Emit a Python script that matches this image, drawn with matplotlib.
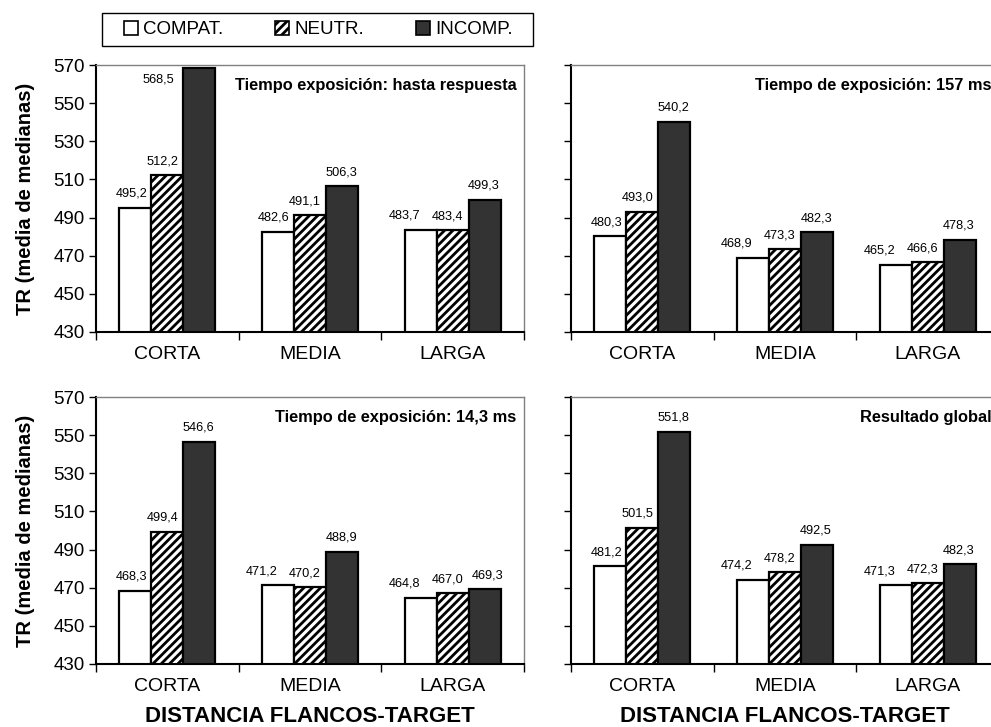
import matplotlib
matplotlib.use("Agg")
import matplotlib.pyplot as plt
from matplotlib.patches import Patch, Rectangle
import numpy as np

plt.rcParams['font.family'] = ['Liberation Sans', 'DejaVu Sans']
plt.rcParams['hatch.linewidth'] = 2.0

categories = ["CORTA", "MEDIA", "LARGA"]
series = ["COMPAT.", "NEUTR.", "INCOMP."]
titles = ["Tiempo exposición: hasta respuesta", "Tiempo de exposición: 157 ms",
          "Tiempo de exposición: 14,3 ms", "Resultado global"]

hasta_respuesta = [[495.2, 482.6, 483.7], [512.2, 491.1, 483.4], [568.5, 506.3, 499.3]]
exp_157 = [[480.3, 468.9, 465.2], [493.0, 473.3, 466.6], [540.2, 482.3, 478.3]]
exp_14_3 = [[468.3, 471.2, 464.8], [499.4, 470.2, 467.0], [546.6, 488.9, 469.3]]
global_res = [[481.2, 474.2, 471.3], [501.5, 478.2, 472.3], [551.8, 492.5, 482.3]]
panels = [hasta_respuesta, exp_157, exp_14_3, global_res]

yticks = [430, 450, 470, 490, 510, 530, 550, 570]

W, H = 991, 727
fig = plt.figure(figsize=(W / 100, H / 100), dpi=100)
PT = 0.72  # points per pixel

boxes = [(96, 65), (571, 65), (96, 397), (571, 397)]
aw, ah = 428, 267

facecolors = ["white", "white", "#333333"]
hatches = [None, "////", None]
bw = 0.225


def label_dx(vals, s, c):
    """Horizontal nudge (px) that mimics the spreadsheet's label placement."""
    if s == 0:
        return -16 if abs(vals[0][c] - vals[1][c]) < 6 else -4
    if s == 1:
        return -5
    return 3 if abs(vals[2][c] - vals[1][c]) < 6 else -1


for i, (vals, title, (x0, y0)) in enumerate(zip(panels, titles, boxes)):
    ax = fig.add_axes([x0 / W, 1 - (y0 + ah) / H, aw / W, ah / H])
    x = np.arange(len(categories))
    for s in range(3):
        xs = x + (s - 1) * bw
        ax.bar(xs, vals[s], width=bw, bottom=0, color=facecolors[s], hatch=hatches[s],
               edgecolor="black", linewidth=1.6, zorder=2)
        for c, (xi, v) in enumerate(zip(xs, vals[s])):
            txt = f"{v:.1f}".replace(".", ",")
            if v > 562:
                ax.annotate(txt, (xi, 570), xytext=(-41 * PT, -15 * PT),
                            textcoords="offset points", ha="center", va="center",
                            fontsize=9.2)
            else:
                ax.annotate(txt, (xi, v), xytext=(label_dx(vals, s, c) * PT, 14 * PT),
                            textcoords="offset points", ha="center", va="center",
                            fontsize=9.2)
    ax.set_ylim(430, 570)
    ax.set_xlim(-0.5, 2.5)
    ax.set_yticks(yticks)
    if i % 2 == 0:
        ax.set_yticklabels([str(t) for t in yticks], fontsize=13.5)
        ax.set_ylabel("TR (media de medianas)", fontsize=14.5, fontweight="bold",
                      labelpad=13)
    else:
        ax.set_yticklabels([])
    ax.set_xticks([-0.5, 0.5, 1.5, 2.5])
    ax.set_xticklabels([])
    ax.set_xticks(x, minor=True)
    ax.set_xticklabels(categories, minor=True, fontsize=14)
    ax.tick_params(axis="x", which="minor", length=0, pad=10)
    ax.tick_params(axis="x", which="major", length=6, width=1, direction="out")
    ax.tick_params(axis="y", length=5, width=1, direction="out", pad=3)
    for sp in ["left", "bottom"]:
        ax.spines[sp].set_linewidth(1.5)
        ax.spines[sp].set_color("black")
    for sp in ["top", "right"]:
        ax.spines[sp].set_linewidth(1.0)
        ax.spines[sp].set_color("#808080")
    ax.text(0.982, 0.925, title, transform=ax.transAxes, ha="right", va="center",
            fontsize=11.8, fontweight="bold")
    if i >= 2:
        ax.set_xlabel("DISTANCIA FLANCOS-TARGET", fontsize=16, fontweight="bold",
                      labelpad=8)

# legend frame drawn separately so its padding can match the reference
fig.patches.append(Rectangle((102 / W, 1 - 46 / H), 431 / W, 33 / H,
                             transform=fig.transFigure, fill=False,
                             edgecolor="black", linewidth=1.0))
handles = [Patch(facecolor=facecolors[s], edgecolor="black", hatch=hatches[s], linewidth=1.2)
           for s in range(3)]
leg = fig.legend(handles, series, loc="center",
                 bbox_to_anchor=(318 / W, 1 - 29.5 / H),
                 ncol=3, fontsize=13.5, frameon=False,
                 handlelength=0.75, handleheight=0.75, handletextpad=0.27,
                 columnspacing=2.77, borderpad=0, borderaxespad=0)

fig.savefig("out.png", dpi=100)
